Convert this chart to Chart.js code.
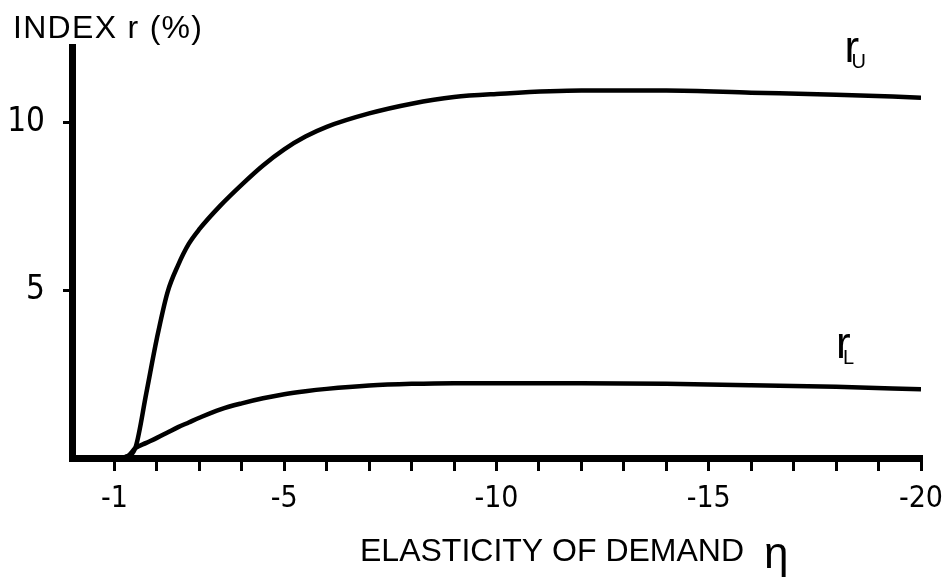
<!DOCTYPE html>
<html><head><meta charset="utf-8">
<style>html,body{margin:0;padding:0;background:#fff;} #wrap{width:942px;height:578px;position:relative;}</style>
<script src="https://cdn.jsdelivr.net/npm/chart.js@4.4.1/dist/chart.umd.min.js"></script>
</head><body><div id="wrap"><canvas id="c" width="942" height="578"></canvas></div>
<script>
// Elasticity of demand (x) and index r in % (y)
const eta    = [0, -1, -1.3, -1.5, -1.75, -2, -2.25, -2.5, -2.75, -3, -3.5, -4, -4.5, -5, -5.5, -6, -7, -8, -9, -10, -12, -14, -16, -18, -20];
const rUpper = [0, 0, 0.05, 0.33, 1.93, 3.57, 4.94, 5.75, 6.38, 6.82, 7.53, 8.15, 8.72, 9.2, 9.58, 9.87, 10.27, 10.56, 10.76, 10.85, 10.95, 10.95, 10.89, 10.83, 10.74];
const rLower = [0, 0, 0.05, 0.3, 0.45, 0.6, 0.76, 0.92, 1.06, 1.2, 1.45, 1.63, 1.78, 1.9, 1.99, 2.06, 2.16, 2.21, 2.23, 2.23, 2.23, 2.21, 2.17, 2.12, 2.05];
const xTickValues = [-1, -2, -3, -4, -5, -6, -7, -8, -9, -10, -11, -12, -13, -14, -15, -16, -17, -18, -19, -20];
const xLabelled   = [-1, -5, -10, -15, -20];
const yTickValues = [5, 10];
const yTitle = 'INDEX r (%)';
const xTitle = 'ELASTICITY OF DEMAND';
const xSymbol = 'η';

const NARROW = "'Liberation Sans Narrow', 'DejaVu Sans Condensed', 'Liberation Sans', sans-serif";
const SANS = "'Liberation Sans', 'DejaVu Sans', sans-serif";

const textPlugin = {
  id: 'texts',
  afterDraw(chart) {
    const ctx = chart.ctx;
    const xs = chart.scales.x, ys = chart.scales.y;
    ctx.save();
    ctx.fillStyle = '#000';
    ctx.textBaseline = 'alphabetic';
    ctx.textAlign = 'left';
    ctx.font = '32px ' + SANS;
    ctx.letterSpacing = '1.3px';
    ctx.fillText(yTitle, 13, 38);
    ctx.letterSpacing = '0px';
    ctx.font = '32px ' + SANS;
    ctx.fillText(xTitle, 360, 561);
    ctx.font = '44px ' + SANS;
    ctx.fillText(xSymbol, 764, 568);
    // curve labels
    const lab = (px, py, sub) => {
      ctx.font = '44px ' + SANS;
      ctx.fillText('r', px, py);
      ctx.font = '20px ' + SANS;
      ctx.fillText(sub, px + 7, py + 6);
    };
    lab(xs.getPixelForValue(-18.2), ys.getPixelForValue(11.8), 'U');
    lab(xs.getPixelForValue(-18.0), ys.getPixelForValue(2.98), 'L');
    ctx.restore();
  }
};

new Chart(document.getElementById('c'), {
  type: 'line',
  data: {
    datasets: [
      { label: 'rU', data: eta.map((x, i) => ({x, y: rUpper[i]})), borderColor: '#000', borderWidth: 4.5, pointRadius: 0, cubicInterpolationMode: 'monotone', fill: false },
      { label: 'rL', data: eta.map((x, i) => ({x, y: rLower[i]})), borderColor: '#000', borderWidth: 4.5, pointRadius: 0, cubicInterpolationMode: 'monotone', fill: false }
    ]
  },
  options: {
    responsive: false,
    animation: false,
    devicePixelRatio: 1,
    layout: { padding: { left: 0, right: 21, top: 47, bottom: 0 } },
    plugins: { legend: { display: false }, tooltip: { enabled: false } },
    events: [],
    scales: {
      x: {
        type: 'linear', reverse: true, min: -20, max: 0,
        afterBuildTicks: s => { s.ticks = xTickValues.map(v => ({value: v})); },
        afterFit: s => { s.height = 120; s.paddingLeft = 0; s.paddingRight = 0; },
        border: { display: true, width: 7, color: '#000' },
        grid: { drawOnChartArea: false, drawTicks: true, tickLength: 13, lineWidth: 3, color: '#000' },
        ticks: {
          autoSkip: false, maxRotation: 0, padding: 10, color: '#000',
          font: { family: NARROW, size: 30 },
          callback: v => xLabelled.includes(v) ? String(v) : ''
        }
      },
      y: {
        type: 'linear', min: 0, max: 12.25,
        afterBuildTicks: s => { s.ticks = yTickValues.map(v => ({value: v})); },
        afterFit: s => { s.width = 72; s.paddingTop = 0; s.paddingBottom = 0; },
        border: { display: true, width: 7, color: '#000' },
        grid: { drawOnChartArea: false, drawTicks: true, tickLength: 9, lineWidth: 3, color: '#000' },
        ticks: { padding: 18, color: '#000', font: { family: NARROW, size: 33 } }
      }
    }
  },
  plugins: [textPlugin]
});
</script></body></html>
